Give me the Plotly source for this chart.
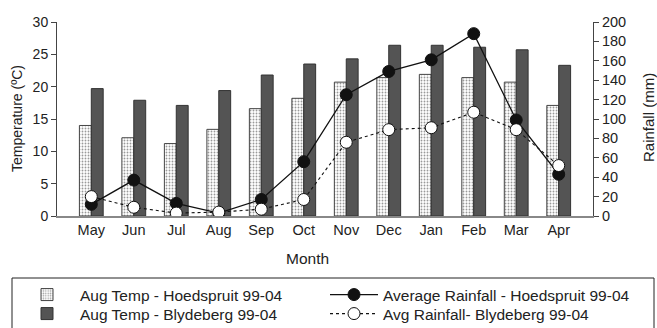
import plotly.graph_objects as go

months = ["May", "Jun", "Jul", "Aug", "Sep", "Oct", "Nov", "Dec", "Jan", "Feb", "Mar", "Apr"]
temp_hoedspruit = [14.0, 12.1, 11.2, 13.4, 16.6, 18.2, 20.7, 21.4, 21.9, 21.4, 20.7, 17.1]
temp_blydeberg = [19.7, 17.9, 17.1, 19.4, 21.8, 23.5, 24.3, 26.4, 26.4, 26.1, 25.7, 23.3]
rain_hoedspruit = [12, 37, 13, 3, 17, 56, 125, 149, 161, 188, 99, 43]
rain_blydeberg = [20, 9, 3, 4, 7, 17, 76, 89, 91, 107, 89, 52]

temp_ticks = [0, 5, 10, 15, 20, 25, 30]
rain_ticks = list(range(0, 201, 20))

font_family = "Liberation Sans, Arial, sans-serif"
W, H = 657, 328
L, R, T, B = 57, 64, 22, 112
PW, PH = W - L - R, H - T - B


def px_x(x):
    """Container pixel column -> paper fraction."""
    return (x - L) / PW


def px_y(y):
    """Container pixel row -> paper fraction."""
    return (H - B - y) / PH


fig = go.Figure()

# temperature bars (left axis)
fig.add_trace(go.Bar(
    x=months, y=temp_hoedspruit, name="Aug Temp - Hoedspruit 99-04",
    marker=dict(color="white", line=dict(color="#444", width=1),
                pattern=dict(shape=".", fgcolor="#333", bgcolor="white",
                             size=3, solidity=0.3)),
    offsetgroup="h", legend="legend",
))
fig.add_trace(go.Bar(
    x=months, y=temp_blydeberg, name="Aug Temp - Blydeberg 99-04",
    marker=dict(color="#545454", line=dict(color="#333", width=1)),
    offsetgroup="b", legend="legend3",
))

# rainfall lines (right axis)
fig.add_trace(go.Scatter(
    x=months, y=rain_hoedspruit, name="Average Rainfall - Hoedspruit 99-04",
    yaxis="y2", mode="lines+markers", legend="legend2",
    line=dict(color="#111", width=1.3),
    marker=dict(symbol="circle", size=12, color="#111", line=dict(color="#111", width=1)),
))
fig.add_trace(go.Scatter(
    x=months, y=rain_blydeberg, name="Avg Rainfall- Blydeberg 99-04",
    yaxis="y2", mode="lines+markers", legend="legend4",
    line=dict(color="#111", width=1.1, dash="dot"),
    marker=dict(symbol="circle", size=12, color="white", line=dict(color="#111", width=1)),
))

legend_common = dict(
    orientation="v", xref="container", yref="container",
    xanchor="left", yanchor="top",
    font=dict(size=15.5, family=font_family, color="#222"),
    bgcolor="rgba(0,0,0,0)", borderwidth=0,
)
row1_top, row2_top = 1 - 278 / H, 1 - 297 / H
col1_x, col2_x = 14 / W, 325 / W

fig.update_layout(
    width=W, height=H,
    margin=dict(l=L, r=R, t=T, b=B, autoexpand=False),
    paper_bgcolor="white", plot_bgcolor="white",
    font=dict(family=font_family, size=14, color="#222"),
    barmode="group", bargap=0.44, bargroupgap=0,
    showlegend=True,
    legend=dict(legend_common, x=col1_x, y=row1_top, itemwidth=56),
    legend3=dict(legend_common, x=col1_x, y=row2_top, itemwidth=56),
    legend2=dict(legend_common, x=col2_x, y=row1_top, itemwidth=48),
    legend4=dict(legend_common, x=col2_x, y=row2_top, itemwidth=48),
    xaxis=dict(
        showline=True, linecolor="#888", linewidth=1.5,
        ticks="", showgrid=False, tickfont=dict(size=14.5),
    ),
    yaxis=dict(
        range=[0, 30], tickvals=temp_ticks, showline=True, linecolor="#444",
        linewidth=1, ticks="outside", ticklen=5, tickcolor="#444",
        showgrid=False, zeroline=False, tickfont=dict(size=14),
    ),
    yaxis2=dict(
        range=[0, 200], tickvals=rain_ticks, overlaying="y", side="right",
        showline=True, linecolor="#444", linewidth=1, ticks="outside",
        ticklen=5, tickcolor="#444", showgrid=False, zeroline=False,
        tickfont=dict(size=14.5),
    ),
    annotations=[
        dict(text="Month", xref="paper", yref="paper", x=px_x(307),
             y=px_y(258), showarrow=False, font=dict(size=15.5),
             xanchor="center", yanchor="middle"),
        dict(text="Temperature (ºC)", xref="paper", yref="paper", x=px_x(17),
             y=px_y(119), showarrow=False, font=dict(size=14), textangle=-90,
             xanchor="center", yanchor="middle"),
        dict(text="Rainfall (mm)", xref="paper", yref="paper", x=px_x(648),
             y=px_y(118), showarrow=False, font=dict(size=15), textangle=-90,
             xanchor="center", yanchor="middle"),
    ],
    shapes=[dict(
        type="rect", xref="paper", yref="paper",
        x0=px_x(12), x1=px_x(654), y0=px_y(278), y1=px_y(335),
        line=dict(color="#222", width=1), fillcolor="rgba(0,0,0,0)",
    )],
)

fig.write_html("out.html")
